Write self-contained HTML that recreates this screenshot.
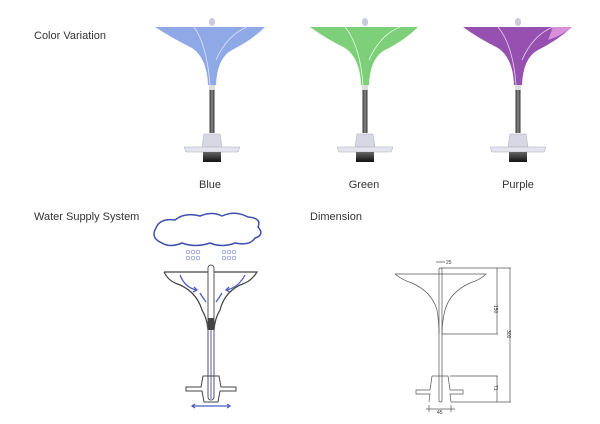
<!DOCTYPE html>
<html><head><meta charset="utf-8"><style>
html,body{margin:0;padding:0;background:#fff;width:600px;height:424px;overflow:hidden}
svg{display:block}
text{font-family:"Liberation Sans",sans-serif}
</style></head><body>
<svg width="600" height="424" viewBox="0 0 600 424" xmlns="http://www.w3.org/2000/svg">
<defs>
<linearGradient id="pole" x1="0" x2="1"><stop offset="0" stop-color="#333"/><stop offset=".5" stop-color="#888"/><stop offset="1" stop-color="#333"/></linearGradient>
<linearGradient id="foot" x1="0" y1="0" x2="0" y2="1"><stop offset="0" stop-color="#666"/><stop offset="1" stop-color="#111"/></linearGradient>
<g id="um">
  <rect x="-3" y="18" width="6" height="8" rx="3" fill="#ccd"/>
  <rect x="-3" y="85" width="6" height="6" fill="#ddd"/>
  <rect x="-2.5" y="90" width="5" height="43" fill="url(#pole)"/>
  <path d="M-10 147 L-8 134 L8 134 L10 147 Z" fill="#d8d8e4" stroke="#aab" stroke-width=".5"/>
  <path d="M-28 147 L28 147 L26 152 L-26 152 Z" fill="#e4e4ee" stroke="#aab" stroke-width=".5"/>
  <rect x="-9" y="152" width="18" height="10" fill="url(#foot)"/>
</g>
</defs>

<text x="34" y="39" font-size="11" fill="#333">Color Variation</text>
<text x="34" y="220" font-size="11" fill="#333">Water Supply System</text>
<text x="310" y="220" font-size="11" fill="#333">Dimension</text>
<text x="210" y="188" font-size="11" fill="#333" text-anchor="middle">Blue</text>
<text x="364" y="188" font-size="11" fill="#333" text-anchor="middle">Green</text>
<text x="518" y="188" font-size="11" fill="#333" text-anchor="middle">Purple</text>

<!-- Blue -->
<g transform="translate(212,0)">
  <use href="#um"/>
  <path d="M-57 27 L53 27 Q40 40 20 50 Q5 58 4 85 L-4 85 Q-5 58 -20 48 Q-40 38 -57 27Z" fill="#8fa8e6"/>
  <path d="M-18 27 Q-5 45 -2 85" stroke="#dde6ff" fill="none" stroke-width=".8"/>
  <path d="M35 27 Q15 35 4 60" stroke="#dde6ff" fill="none" stroke-width=".8"/>
</g>
<!-- Green -->
<g transform="translate(365,0)">
  <use href="#um"/>
  <path d="M-55 27 L53 27 Q40 40 20 50 Q5 58 4 85 L-4 85 Q-5 58 -20 48 Q-40 38 -55 27Z" fill="#7dcf7a"/>
  <path d="M-20 27 Q-5 45 -2 85" stroke="#e0ffe0" fill="none" stroke-width=".8"/>
  <path d="M35 27 Q15 35 4 60" stroke="#e0ffe0" fill="none" stroke-width=".8"/>
</g>
<!-- Purple -->
<g transform="translate(518,0)">
  <use href="#um"/>
  <path d="M-55 27 L54 27 Q40 40 20 50 Q5 58 4 85 L-4 85 Q-5 58 -20 48 Q-40 38 -55 27Z" fill="#9650b0"/>
  <path d="M35 27 L54 27 Q45 35 30 40Z" fill="#d890d8"/>
  <path d="M-20 27 Q-5 45 -2 85" stroke="#e8d0f0" fill="none" stroke-width=".8"/>
  <path d="M35 27 Q15 35 4 60" stroke="#e8d0f0" fill="none" stroke-width=".8"/>
</g>

<!-- Water supply -->
<g fill="none">
  <path d="M162 243 Q150 238 156 228 Q160 218 175 220 Q185 212 200 216 Q212 211 222 216 Q235 210 248 217 Q262 218 258 227 Q265 235 255 238 Q250 246 235 243 Q222 248 210 243 Q195 248 182 243 Q170 248 162 243Z" stroke="#3c4fae" stroke-width="1.5"/>
  <g stroke="#7a86d0" stroke-width=".7">
    <circle cx="188" cy="252" r="1.8"/><circle cx="193" cy="252" r="1.8"/><circle cx="198" cy="252" r="1.8"/>
    <circle cx="188" cy="258" r="1.8"/><circle cx="193" cy="258" r="1.8"/><circle cx="198" cy="258" r="1.8"/>
    <circle cx="224" cy="252" r="1.8"/><circle cx="229" cy="252" r="1.8"/><circle cx="234" cy="252" r="1.8"/>
    <circle cx="224" cy="258" r="1.8"/><circle cx="229" cy="258" r="1.8"/><circle cx="234" cy="258" r="1.8"/>
  </g>
  <path d="M164 272 L257 272 Q252 280 245 283 Q225 290 220 310 Q215 318 214 330 M164 272 Q168 280 175 283 Q196 290 202 310 Q207 318 208 330" stroke="#444" stroke-width="1.2"/>
  <rect x="208" y="265" width="6" height="135" rx="3" stroke="#555" stroke-width="1" fill="#fff"/>
  <rect x="210" y="320" width="2" height="80" fill="#a8b0e0" stroke="none"/>
  <rect x="208" y="318" width="6" height="12" fill="#444" stroke="none"/>
  <path d="M203 376 L219 376 L221 387 L236 387 L236 391 L220 391 L218 402 L204 402 L202 391 L186 391 L186 387 L201 387Z" stroke="#444" stroke-width="1"/>
  <g stroke="#4c5fc0" stroke-width="1.3">
    <path d="M180 275 Q185 288 197 290"/><path d="M194 287 L197 290 L193 292"/>
    <path d="M245 275 Q238 288 226 290"/><path d="M229 287 L226 290 L230 292"/>
    <path d="M200 293 Q203 298 206 302"/><path d="M222 293 Q219 298 216 302"/>
    <path d="M192 406 L230 406"/><path d="M195 404 L192 406 L195 408 M227 404 L230 406 L227 408"/>
  </g>
</g>

<!-- Dimension -->
<g fill="none" stroke="#555" stroke-width=".7">
  <path d="M395 274 L486 274 Q480 280 470 283 Q450 292 445 310 Q442 322 442 334 M395 274 Q402 280 412 283 Q432 292 437 310 Q439 322 439 334"/>
  <rect x="439" y="268" width="3" height="134" rx="1.5"/>
  <path d="M432 376 L448 376 L450 390 L463 390 L463 394 L450 394 L451 402 M432 376 L430 390 L416 390 L416 394 L430 394 L429 402"/>
  <path d="M441 268 L511 268 M442 334 L498 334 M450 376 L498 376 M451 402 L511 402"/>
  <path d="M497 268 L497 334 M497 376 L497 402 M510 268 L510 402"/>
  <path d="M426 409 L455 409 M429 405 L429 412 M451 405 L451 412 M436 262 L445 262"/>
</g>
<g font-size="5" fill="#333">
  <text x="446" y="264">25</text>
  <text x="437" y="414">45</text>
  <text transform="translate(494,305) rotate(90)">150</text>
  <text transform="translate(507,330) rotate(90)">300</text>
  <text transform="translate(494,385) rotate(90)">71</text>
</g>
</svg>
</body></html>
